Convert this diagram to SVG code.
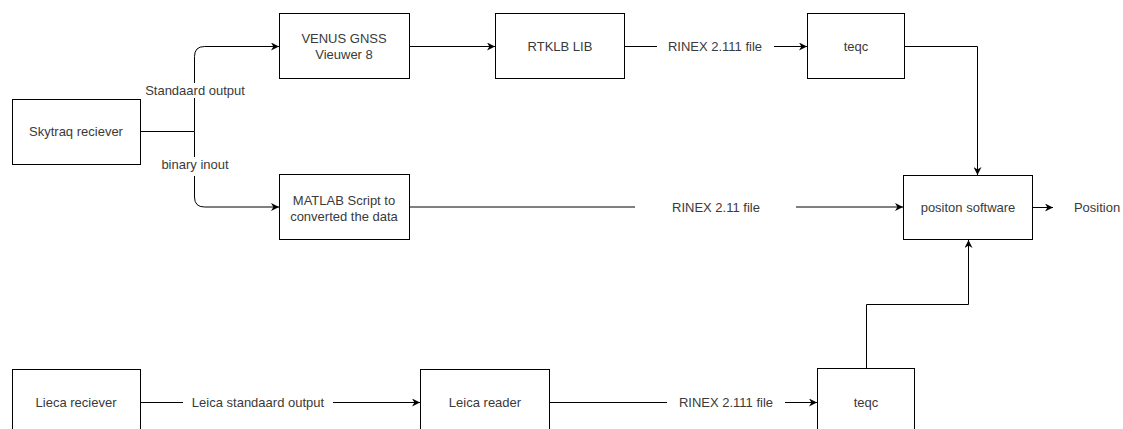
<svg xmlns="http://www.w3.org/2000/svg" width="1123" height="429" viewBox="0 0 1123 429">
<defs>
<style>
.box{fill:#fff;stroke:#000;stroke-width:1}
.t{font-family:"Liberation Sans",Arial,sans-serif;font-size:13px;fill:#3a3a3a;text-anchor:middle;dominant-baseline:central}
.e{fill:none;stroke:#000;stroke-width:1}
.lb{fill:#fff;stroke:none}
</style>
<marker id="ah" viewBox="0 0 10 10" refX="10" refY="5" markerWidth="9" markerHeight="8" markerUnits="userSpaceOnUse" orient="auto">
<path d="M0,0 L10,5 L0,10 L3,5 Z" fill="#000"/>
</marker>
</defs>
<rect width="1123" height="429" fill="#fff"/>
<g id="connectors">
<path class="e" d="M140.5,131.5 H194.5 V56.5 Q194.5,46.5 204.5,46.5 H279" marker-end="url(#ah)"/>
<path class="e" d="M194.5,131.5 V197 Q194.5,207 204.5,207 H279" marker-end="url(#ah)"/>
<path class="e" d="M409,46.5 H495" marker-end="url(#ah)"/>
<path class="e" d="M624,46.5 H807" marker-end="url(#ah)"/>
<path class="e" d="M904,46.5 H977.5 V175" marker-end="url(#ah)"/>
<path class="e" d="M409,207 H903" marker-end="url(#ah)"/>
<path class="e" d="M1032,207.5 H1053" marker-end="url(#ah)"/>
<path class="e" d="M140,402.5 H420" marker-end="url(#ah)"/>
<path class="e" d="M549,402.5 H817" marker-end="url(#ah)"/>
<path class="e" d="M866.5,368 V304.5 H968.5 V240" marker-end="url(#ah)"/>
<rect class="lb" x="143" y="83" width="104" height="15"/>
<text class="t" x="195" y="90">Standaard output</text>
<rect class="lb" x="158" y="157" width="74" height="19"/>
<text class="t" x="195" y="164">binary inout</text>
<rect class="lb" x="657" y="38" width="117" height="16"/>
<text class="t" x="715" y="46">RINEX 2.111 file</text>
<rect class="lb" x="635" y="199" width="161" height="16"/>
<text class="t" x="716" y="207">RINEX 2.11 file</text>
<rect class="lb" x="183" y="394" width="150" height="16"/>
<text class="t" x="258" y="402">Leica standaard output</text>
<rect class="lb" x="667" y="394" width="118" height="16"/>
<text class="t" x="726" y="402">RINEX 2.111 file</text>
</g>
<g id="skytraq">
<rect class="box" x="12.5" y="99.5" width="128" height="65"/>
<text class="t" x="76" y="131.5">Skytraq reciever</text>
</g>
<g id="venus">
<rect class="box" x="279.5" y="13.5" width="130" height="65"/>
<text class="t" x="344" y="38">VENUS GNSS</text>
<text class="t" x="344" y="54">Vieuwer 8</text>
</g>
<g id="rtklb">
<rect class="box" x="495.5" y="13.5" width="129" height="65"/>
<text class="t" x="560" y="46">RTKLB LIB</text>
</g>
<g id="teqc1">
<rect class="box" x="807.5" y="13.5" width="97" height="65"/>
<text class="t" x="856" y="46">teqc</text>
</g>
<g id="matlab">
<rect class="box" x="279.5" y="174.5" width="130" height="65"/>
<text class="t" x="344" y="200">MATLAB Script to</text>
<text class="t" x="344" y="216">converted the data</text>
</g>
<g id="position-software">
<rect class="box" x="903.5" y="175.5" width="129" height="64"/>
<text class="t" x="968" y="207">positon software</text>
</g>
<g id="position">
<text class="t" x="1097" y="207">Position</text>
</g>
<g id="lieca">
<rect class="box" x="12.5" y="369.5" width="128" height="65"/>
<text class="t" x="76" y="402">Lieca reciever</text>
</g>
<g id="leica-reader">
<rect class="box" x="420.5" y="369.5" width="129" height="65"/>
<text class="t" x="485" y="402">Leica reader</text>
</g>
<g id="teqc2">
<rect class="box" x="817.5" y="368.5" width="97" height="65"/>
<text class="t" x="866" y="402">teqc</text>
</g>
</svg>
